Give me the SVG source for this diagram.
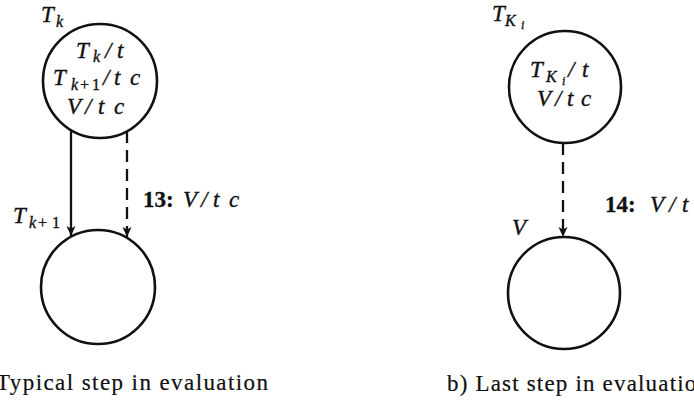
<svg xmlns="http://www.w3.org/2000/svg" width="694" height="402" viewBox="0 0 694 402">
<style>
  .node { fill: #fff; stroke: #111; stroke-width: 2.6; }
  .edge { fill: none; stroke: #111; stroke-width: 2.3; }
  .dash { stroke-dasharray: 12 7; }
  text { font-family: "Liberation Serif", "Times New Roman", serif; fill: #111; stroke: #111; stroke-width: 0.35; }
  .m { font-style: italic; font-size: 23px; }
  .s { font-style: italic; font-size: 16px; }
  .sr { font-style: normal; font-size: 16px; }
  .ss { font-style: italic; font-size: 12px; }
  .b { font-weight: bold; font-size: 23px; }
  .cap { font-size: 23px; stroke-width: 0.2; }
</style>
<defs>
  <marker id="arrow" viewBox="0 0 10 10" refX="10" refY="5" markerWidth="10" markerHeight="10" markerUnits="userSpaceOnUse" orient="auto">
    <path d="M0,0.5 L10,5 L0,9.5 L2.5,5 z" fill="#111"/>
  </marker>
</defs>

<g id="connectors">
  <line class="edge" x1="71" y1="130" x2="71" y2="236" marker-end="url(#arrow)"/>
  <line class="edge dash" x1="127" y1="131" x2="127" y2="237" marker-end="url(#arrow)"/>
  <line class="edge dash" x1="563" y1="143" x2="563" y2="237" marker-end="url(#arrow)"/>
</g>

<g id="node-Tk">
  <circle class="node" cx="100" cy="81" r="57"/>
  <text class="m" x="41" y="22">T</text><text class="s" x="56" y="27">k</text>
  <text class="m" x="76" y="58">T</text><text class="s" x="93" y="62">k</text><text class="m" x="105" y="58">/</text><text class="m" x="117" y="58">t</text>
  <text class="m" x="53" y="85">T</text><text class="s" x="71" y="90">k</text><text class="sr" x="80" y="90">+</text><text class="sr" x="92" y="90">1</text><text class="m" x="103" y="85">/</text><text class="m" x="114" y="85">t</text><text class="m" x="130" y="85">c</text>
  <text class="m" x="67" y="114">V</text><text class="m" x="85" y="114">/</text><text class="m" x="98" y="114">t</text><text class="m" x="114" y="114">c</text>
</g>

<g id="node-Tk1">
  <circle class="node" cx="98" cy="287" r="57"/>
  <text class="m" x="13" y="223">T</text><text class="s" x="29" y="228">k</text><text class="sr" x="38" y="228">+</text><text class="sr" x="52" y="228">1</text>
</g>

<g id="node-TKi">
  <circle class="node" cx="565" cy="87" r="56"/>
  <text class="m" x="492" y="21">T</text><text class="s" x="505" y="26">K</text><text class="ss" x="521" y="29">i</text>
  <text class="m" x="530" y="77">T</text><text class="s" x="546" y="82">K</text><text class="ss" x="562" y="85">i</text><text class="m" x="568" y="77">/</text><text class="m" x="582" y="77">t</text>
  <text class="m" x="537" y="106">V</text><text class="m" x="555" y="106">/</text><text class="m" x="567" y="106">t</text><text class="m" x="581" y="106">c</text>
</g>

<g id="node-V">
  <circle class="node" cx="564" cy="293" r="56"/>
  <text class="m" x="512" y="235">V</text>
</g>

<g id="edge-labels">
  <text class="b" x="143" y="207">13:</text><text class="m" x="183" y="207">V</text><text class="m" x="201" y="207">/</text><text class="m" x="213" y="207">t</text><text class="m" x="229" y="207">c</text>
  <text class="b" x="605" y="212">14:</text><text class="m" x="650" y="212">V</text><text class="m" x="669" y="212">/</text><text class="m" x="682" y="212">t</text>
</g>

<g id="captions">
  <text class="cap" x="-4" y="390" textLength="272" lengthAdjust="spacing">Typical step in evaluation</text>
  <text class="cap" x="447" y="391" textLength="262" lengthAdjust="spacing">b) Last step in evaluation</text>
</g>
</svg>
